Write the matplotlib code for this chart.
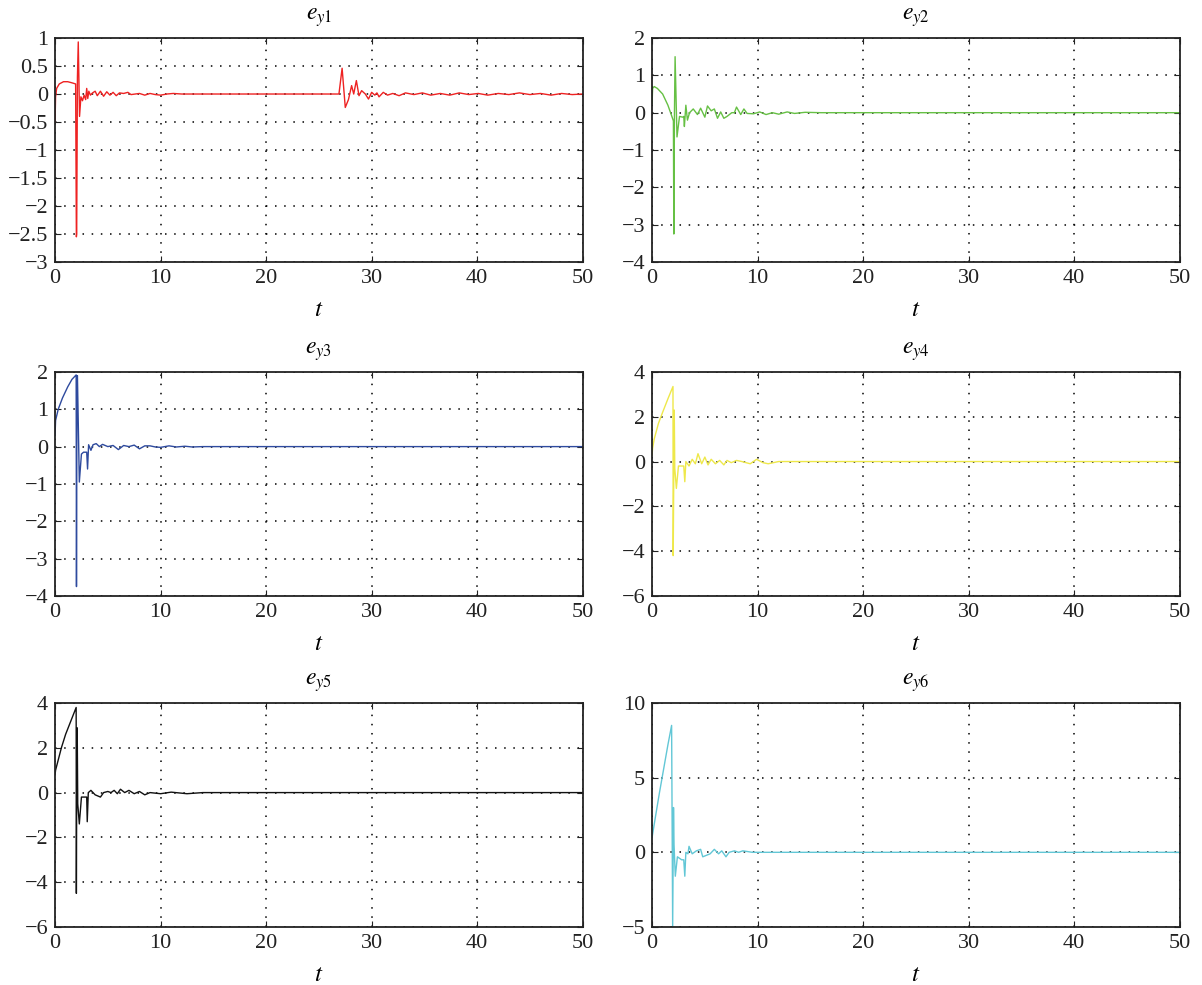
import matplotlib
matplotlib.use("Agg")
import matplotlib.pyplot as plt

plt.rcParams['font.family'] = ['Liberation Serif', 'DejaVu Serif']
plt.rcParams['mathtext.fontset'] = 'stix'

# e_y1 (red)
t1 = [0.0, 0.05, 0.15, 0.4, 0.8, 1.2, 1.6, 1.95, 2.02, 2.05, 2.12, 2.2, 2.32, 2.45, 2.6, 2.75, 2.9, 3.0,
      3.1, 3.2, 3.35, 3.55, 3.8, 4.0, 4.3, 4.6, 4.9, 5.2, 5.5, 5.8, 6.1, 6.5, 6.9, 7.2, 7.6, 8.0, 8.5,
      9.0, 9.5, 10.0, 10.6, 11.2, 12.0, 14.0, 18.0, 22.0, 26.9, 27.2, 27.5, 27.8, 28.1, 28.3, 28.55,
      28.8, 29.05, 29.4, 29.7, 30.0, 30.3, 30.5, 30.7, 31.1, 31.5, 32.0, 32.6, 33.2, 34.0, 34.8, 35.6,
      36.5, 37.4, 38.3, 39.2, 40.1, 41.0, 42.0, 43.0, 44.0, 45.0, 46.0, 47.0, 48.0, 49.0, 50.0]
y1 = [-0.5, -0.05, 0.1, 0.18, 0.22, 0.22, 0.2, 0.18, -2.55, -2.5, 0.3, 0.93, -0.4, -0.05, -0.12, -0.02, -0.1, 0.1,
      -0.08, 0.05, -0.02, 0.02, 0.05, -0.03, 0.05, -0.04, 0.04, -0.02, 0.03, -0.03, 0.02, 0.01, 0.03, -0.01, 0.0, 0.01, -0.02,
      0.01, -0.01, -0.02, 0.0, 0.01, 0.0, 0.0, 0.0, 0.0, 0.0, 0.46, -0.24, -0.1, 0.15, 0.0, 0.24,
      -0.03, 0.06, 0.0, -0.09, 0.03, -0.02, 0.02, -0.05, 0.03, -0.02, 0.01, -0.03, 0.02, -0.01, 0.02, -0.02,
      0.01, -0.02, 0.02, -0.01, 0.01, -0.02, 0.01, -0.01, 0.02, -0.01, 0.01, -0.02, 0.01, -0.01, 0.0]

# e_y2 (green)
t2 = [0.0, 0.05, 0.2, 0.5, 1.0, 1.5, 1.9, 2.02, 2.06, 2.12, 2.18, 2.36, 2.6, 2.9, 3.0, 3.06, 3.2, 3.35, 3.55,
      3.9, 4.3, 4.6, 5.0, 5.25, 5.6, 5.9, 6.2, 6.5, 6.8, 7.1, 7.55, 7.8, 8.0, 8.4, 8.7, 9.0, 9.6, 10.2,
      10.8, 11.4, 12.0, 12.8, 13.5, 14.5, 16.0, 20.0, 30.0, 40.0, 50.0]
y2 = [0.25, 0.65, 0.7, 0.65, 0.5, 0.2, -0.12, -0.22, -3.25, 0.0, 1.5, -0.65, -0.1, -0.12, -0.1, -0.37, 0.2, -0.2, 0.0,
      0.1, -0.05, 0.12, -0.12, 0.18, 0.05, 0.1, -0.15, 0.02, -0.15, -0.1, 0.0, 0.0, 0.15, -0.05, 0.1, -0.02, -0.03, 0.02,
      -0.05, 0.0, -0.04, 0.02, -0.02, 0.01, 0.0, 0.0, 0.0, 0.0, 0.0]

# e_y3 (blue)
t3 = [0.0, 0.05, 0.3, 0.7, 1.2, 1.6, 2.0, 2.03, 2.08, 2.12, 2.3, 2.5, 2.7, 3.0, 3.08, 3.18, 3.4, 3.6, 3.9,
      4.2, 4.5, 5.0, 5.5, 6.0, 6.5, 7.0, 7.5, 8.0, 8.5, 9.0, 9.5, 10.0, 10.8, 11.5, 12.3, 13.0, 14.0, 15.0,
      20.0, 30.0, 40.0, 50.0]
y3 = [0.3, 0.7, 1.0, 1.3, 1.6, 1.8, 1.92, -3.75, 1.85, 1.9, -0.95, -0.2, -0.15, -0.15, -0.6, 0.05, -0.1, 0.05, 0.08,
      0.0, 0.06, 0.0, 0.03, -0.08, 0.03, 0.0, 0.04, -0.06, 0.02, 0.02, -0.01, -0.02, 0.02, -0.01, 0.01, -0.01, 0.0, 0.0,
      0.0, 0.0, 0.0, 0.0]

# e_y4 (yellow)
t4 = [0.0, 0.05, 0.2, 0.6, 1.0, 1.5, 1.98, 2.0, 2.1, 2.15, 2.3, 2.5, 2.8, 3.0, 3.1, 3.2, 3.5, 3.8, 4.1,
      4.35, 4.7, 5.0, 5.3, 5.6, 6.0, 6.4, 6.8, 7.1, 7.5, 8.0, 8.5, 9.3, 9.9, 10.5, 11.0, 12.0, 14.0,
      20.0, 30.0, 40.0, 50.0]
y4 = [0.3, 0.6, 1.0, 1.7, 2.2, 2.8, 3.35, -4.2, 2.3, -0.3, -1.2, -0.2, -0.2, -0.2, -0.9, 0.0, -0.2, 0.1, -0.1,
      0.35, -0.1, 0.2, -0.15, 0.1, -0.1, 0.05, -0.15, 0.05, -0.05, 0.05, 0.0, -0.1, 0.1, -0.05, -0.1, 0.0, 0.0,
      0.0, 0.0, 0.0, 0.0]

# e_y5 (black)
t5 = [0.0, 0.05, 0.6, 1.0, 1.5, 2.0, 2.02, 2.07, 2.1, 2.15, 2.3, 2.5, 2.8, 3.0, 3.05, 3.15, 3.4, 3.8, 4.3,
      4.6, 5.0, 5.3, 5.6, 5.9, 6.2, 6.6, 7.0, 7.5, 8.0, 8.5, 9.0, 10.0, 11.0, 12.5, 14.0, 20.0, 30.0,
      40.0, 50.0]
y5 = [0.8, 1.0, 2.0, 2.6, 3.2, 3.8, -4.5, 2.9, 2.8, -0.5, -1.4, -0.2, -0.2, -0.2, -1.3, 0.0, 0.1, -0.1, -0.2,
      0.0, 0.05, 0.0, 0.1, -0.05, 0.15, 0.0, 0.1, -0.05, 0.05, -0.1, 0.0, -0.05, 0.02, -0.05, 0.0, 0.0, 0.0,
      0.0, 0.0]

# e_y6 (cyan)
t6 = [0.0, 0.3, 0.7, 1.1, 1.5, 1.85, 1.95, 2.03, 2.08, 2.2, 2.4, 2.8, 3.0, 3.1, 3.2, 3.4, 3.5, 3.8, 4.2,
      4.6, 4.8, 5.5, 5.9, 6.3, 6.6, 7.0, 7.3, 7.8, 8.2, 8.6, 9.5, 10.5, 12.0, 20.0, 30.0, 40.0, 50.0]
y6 = [1.0, 2.3, 4.0, 5.6, 7.2, 8.5, -5.0, 3.0, 0.5, -1.6, -0.3, -0.5, -0.5, -1.6, 0.0, -0.1, 0.4, -0.1, 0.1,
      0.2, -0.3, -0.1, 0.2, -0.1, 0.1, -0.3, 0.0, 0.1, 0.0, 0.1, 0.0, 0.0, 0.0, 0.0, 0.0, 0.0, 0.0]

series = [(t1, y1), (t2, y2), (t3, y3), (t4, y4), (t5, y5), (t6, y6)]
titles = ['$e_{y1}$', '$e_{y2}$', '$e_{y3}$', '$e_{y4}$', '$e_{y5}$', '$e_{y6}$']
colors = ['#ee2222', '#66c044', '#2e4a9e', '#eee84a', '#111111', '#62c7d6']
ylims = [(-3, 1), (-4, 2), (-4, 2), (-6, 4), (-6, 4), (-5, 10)]
yticks = [[-3, -2.5, -2, -1.5, -1, -0.5, 0, 0.5, 1],
          [-4, -3, -2, -1, 0, 1, 2],
          [-4, -3, -2, -1, 0, 1, 2],
          [-6, -4, -2, 0, 2, 4],
          [-6, -4, -2, 0, 2, 4],
          [-5, 0, 5, 10]]
xticks = [0, 10, 20, 30, 40, 50]

fig = plt.figure(figsize=(12.02, 9.85), dpi=100)
lefts = [0.0458, 0.5425]
bottoms = [0.734, 0.395, 0.0589]
w, h = 0.439, 0.2274

for i, (t, y) in enumerate(series):
    ax = fig.add_axes([lefts[i % 2], bottoms[i // 2], w, h])
    ax.plot(t, y, color=colors[i], lw=1.0)
    ax.set_xlim(0, 50)
    ax.set_ylim(*ylims[i])
    ax.set_xticks(xticks)
    ax.set_yticks(yticks[i])
    ax.set_yticklabels([('%g' % v).replace('-', '\u2212') for v in yticks[i]])
    ax.set_title(titles[i], fontsize=17, pad=13)
    ax.set_xlabel('$t$', fontsize=18, labelpad=8)
    ax.tick_params(direction='in', top=True, right=True, length=4, width=0.8, labelsize=16, pad=5,
                   colors='#222222')
    ax.grid(True, color='black', linestyle=(0, (1, 5)), linewidth=1.1)
    for s in ax.spines.values():
        s.set_linewidth(1.3)
        s.set_color('#222222')

fig.savefig('out.png', dpi=100)
